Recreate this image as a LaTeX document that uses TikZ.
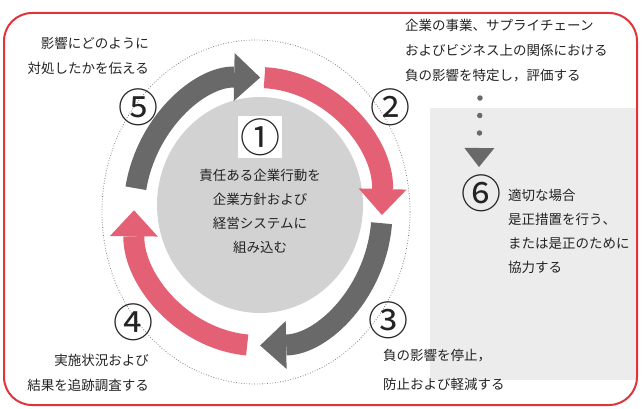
\documentclass[tikz,border=0pt]{standalone}
\usepackage{fontspec}
\setmainfont{Noto Sans CJK JP}
\usetikzlibrary{arrows.meta}
\definecolor{arrowred}{RGB}{228,96,116}
\definecolor{arrowgray}{RGB}{105,105,105}
\definecolor{discgray}{RGB}{210,210,210}
\definecolor{panelgray}{RGB}{236,236,236}
\definecolor{borderred}{RGB}{226,50,60}
\definecolor{txt}{RGB}{35,35,35}
\tikzset{
  ringarrow/.style={line width=21pt, -{Triangle[width=48pt,length=26pt,line width=0pt]}},
  garrow/.style={ringarrow, draw=arrowgray},
  rarrow/.style={ringarrow, draw=arrowred},
  lbl/.style={text=txt, inner sep=0pt, font=\fontsize{13.5}{25}\selectfont},
  num/.style={text=txt, inner sep=0pt, font=\fontsize{40}{40}\selectfont},
  dotring/.style={draw=gray, line width=0.8pt, dash pattern=on 0.8pt off 1.8pt},
  dotline/.style={draw=arrowgray, line width=5.5pt, line cap=round, dash pattern=on 0pt off 17.5pt, dash phase=2.5pt},
}
\begin{document}
\begin{tikzpicture}[x=1pt,y=1pt]
\useasboundingbox (0,0) rectangle (642,408);
% right panel
\fill[panelgray] (430,28) rectangle (636,300);
% outer dotted ring
\draw[dotring] (256,196) ellipse [x radius=154pt, y radius=172pt];
% inner disc
\fill[discgray] (260,203) ellipse [x radius=103pt, y radius=108pt];
% ring arrows
\coordinate (rc) at (258,196.5);
\begin{scope}[shift={(rc)}]
  \draw[garrow] (170:124pt and 134pt) arc[start angle=170, end angle=89, x radius=124pt, y radius=134pt];
  \draw[rarrow] (87:124pt and 134pt) arc[start angle=87, end angle=-1.5, x radius=124pt, y radius=134pt];
  \draw[garrow] (-5:124pt and 134pt) arc[start angle=-5, end angle=-89, x radius=124pt, y radius=134pt];
  \draw[rarrow] (-95:124pt and 134pt) arc[start angle=-95, end angle=-180.5, x radius=124pt, y radius=134pt];
\end{scope}
% numbers
\node[num, fill=white, inner sep=2pt] (n1) at (260,271) {①};
\node[num] (n2) at (390,301) {②};
\node[num] (n3) at (388,88) {③};
\node[num] (n4) at (133,86) {④};
\node[num] (n5) at (138,301) {⑤};
\node[num] (n6) at (481,215) {⑥};
% texts
\node[lbl, anchor=north, align=center, font=\fontsize{13.5}{24}\selectfont] (t1) at (260,239.5)
  {責任ある企業行動を\\企業方針および\\経営システムに\\組み込む};
\node[lbl, anchor=north west, align=left] (t2) at (405,389.5)
  {企業の事業、サプライチェーン\\およびビジネス上の関係における\\負の影響を特定し，評価する};
\node[lbl, anchor=north west, align=left, font=\fontsize{13.5}{29}\selectfont] (t3) at (383,59.5)
  {負の影響を停止，\\防止および軽減する};
\node[lbl, anchor=north east, align=right] (t4) at (149,54.5)
  {実施状況および\\結果を追跡調査する};
\node[lbl, anchor=north east, align=right] (t5) at (149,371.5)
  {影響にどのように\\対処したかを伝える};
\node[lbl, anchor=north west, align=left, font=\fontsize{13.5}{24}\selectfont] (t6) at (508,219.5)
  {適切な場合\\是正措置を行う、\\または是正のために\\協力する};
% dotted arrow from step 2 to step 6
\coordinate (dtop) at (480,312);
\coordinate (dtip) at (479,241);
\draw[dotline, {Triangle[width=30pt,length=19pt,line width=0pt]}-] (dtip) -- (dtop);
% border
\draw[borderred, line width=2pt, rounded corners=28pt] (4,3) rectangle (637,395);
\end{tikzpicture}
\end{document}
